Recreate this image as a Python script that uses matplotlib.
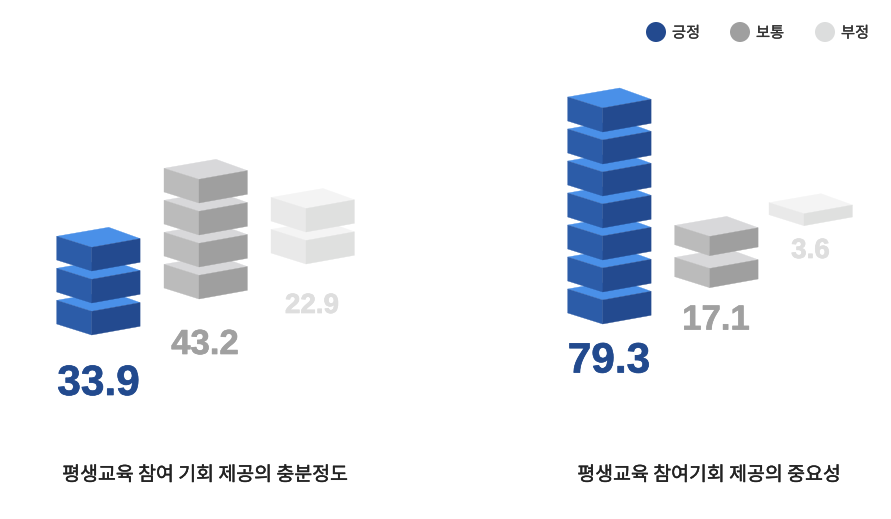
import matplotlib
matplotlib.use("Agg")
import matplotlib.pyplot as plt
from matplotlib.patches import Polygon, Circle
import matplotlib.patheffects as pe

plt.rcParams['font.family'] = ['Noto Sans CJK KR', 'DejaVu Sans']

# data
legend_labels = ['긍정', '보통', '부정']
chart_titles = ['평생교육 참여 기회 제공의 충분정도', '평생교육 참여기회 제공의 중요성']
values_left = [33.9, 43.2, 22.9]
values_right = [79.3, 17.1, 3.6]
# number of boxes in each stack, counted on the picture
boxes_left = [3, 4, 2]
boxes_right = [7, 2, 1]

# layout, in pixels of the 891x519 image
front_x = [[91.7, 199, 306], [602.7, 709.7, 804]]
front_bottom = [[335, 299, 264], [324, 287.7, 225.7]]
box_height = [[23.7, 23.7, 23.5], [24, 19.3, 12]]
label_x = [[98.5, 205, 312], [609, 716, 810.5]]
label_base = [[395, 354, 313], [372.5, 329.5, 258]]
label_size = [30.5, 25, 20]
title_x = [205, 709]
pitch = 32

# top, left side, right side for each category
face_colors = [('#4A90E8', '#2C5CA8', '#234A8F'),
               ('#D8D8DA', '#BBBBBB', '#9F9F9F'),
               ('#F4F4F4', '#E9E9E9', '#DFE0DF')]
text_colors = ['#224A8E', '#A0A0A0', '#DEDEDE']
legend_colors = ['#234A8F', '#9F9F9F', '#DCDDDD']
legend_cx = [656, 740, 825]


def draw_box(ax, x, y, h, colors):
    # x, y = front corner of the top face
    top, left, right = colors
    faces = [
        ([(x, y), (x - 35, y - 11), (x + 17, y - 20), (x + 48.4, y - 8.7)], top),
        ([(x, y), (x - 35, y - 11), (x - 35, y - 11 + h), (x, y + h)], left),
        ([(x, y), (x + 48.4, y - 8.7), (x + 48.4, y - 8.7 + h), (x, y + h)], right),
    ]
    for pts, col in faces:
        # thin edge in same colour hides the seam between faces
        ax.add_patch(Polygon(pts, closed=True, fc=col, ec=col, lw=0.25))


fig = plt.figure(figsize=(8.91, 5.19), dpi=100)
ax = fig.add_axes([0, 0, 1, 1])
ax.set_xlim(0, 891)
ax.set_ylim(519, 0)
ax.axis('off')

for c, (values, boxes) in enumerate([(values_left, boxes_left), (values_right, boxes_right)]):
    for i in range(3):
        h = box_height[c][i]
        # bottom box first so the upper ones sit over it
        for n in range(boxes[i]):
            y = front_bottom[c][i] - h - n * pitch
            draw_box(ax, front_x[c][i], y, h, face_colors[i])
        ax.text(label_x[c][i], label_base[c][i], f'{values[i]:.1f}', color=text_colors[i],
                fontsize=label_size[i], fontweight='bold', family=['Liberation Sans'],
                ha='center', va='baseline',
                path_effects=[pe.withStroke(linewidth=0.5, foreground=text_colors[i])])
    ax.text(title_x[c], 475, chart_titles[c], color='#222222', fontsize=14,
            ha='center', va='center',
            path_effects=[pe.withStroke(linewidth=0.3, foreground='#222222')])

for cx, col, lab in zip(legend_cx, legend_colors, legend_labels):
    ax.add_patch(Circle((cx, 32), 10, fc=col, ec='none'))
    ax.text(cx + 16, 33, lab, color='#333333', fontsize=11, ha='left', va='center',
            path_effects=[pe.withStroke(linewidth=0.2, foreground='#333333')])

plt.savefig('out.png', dpi=100)
